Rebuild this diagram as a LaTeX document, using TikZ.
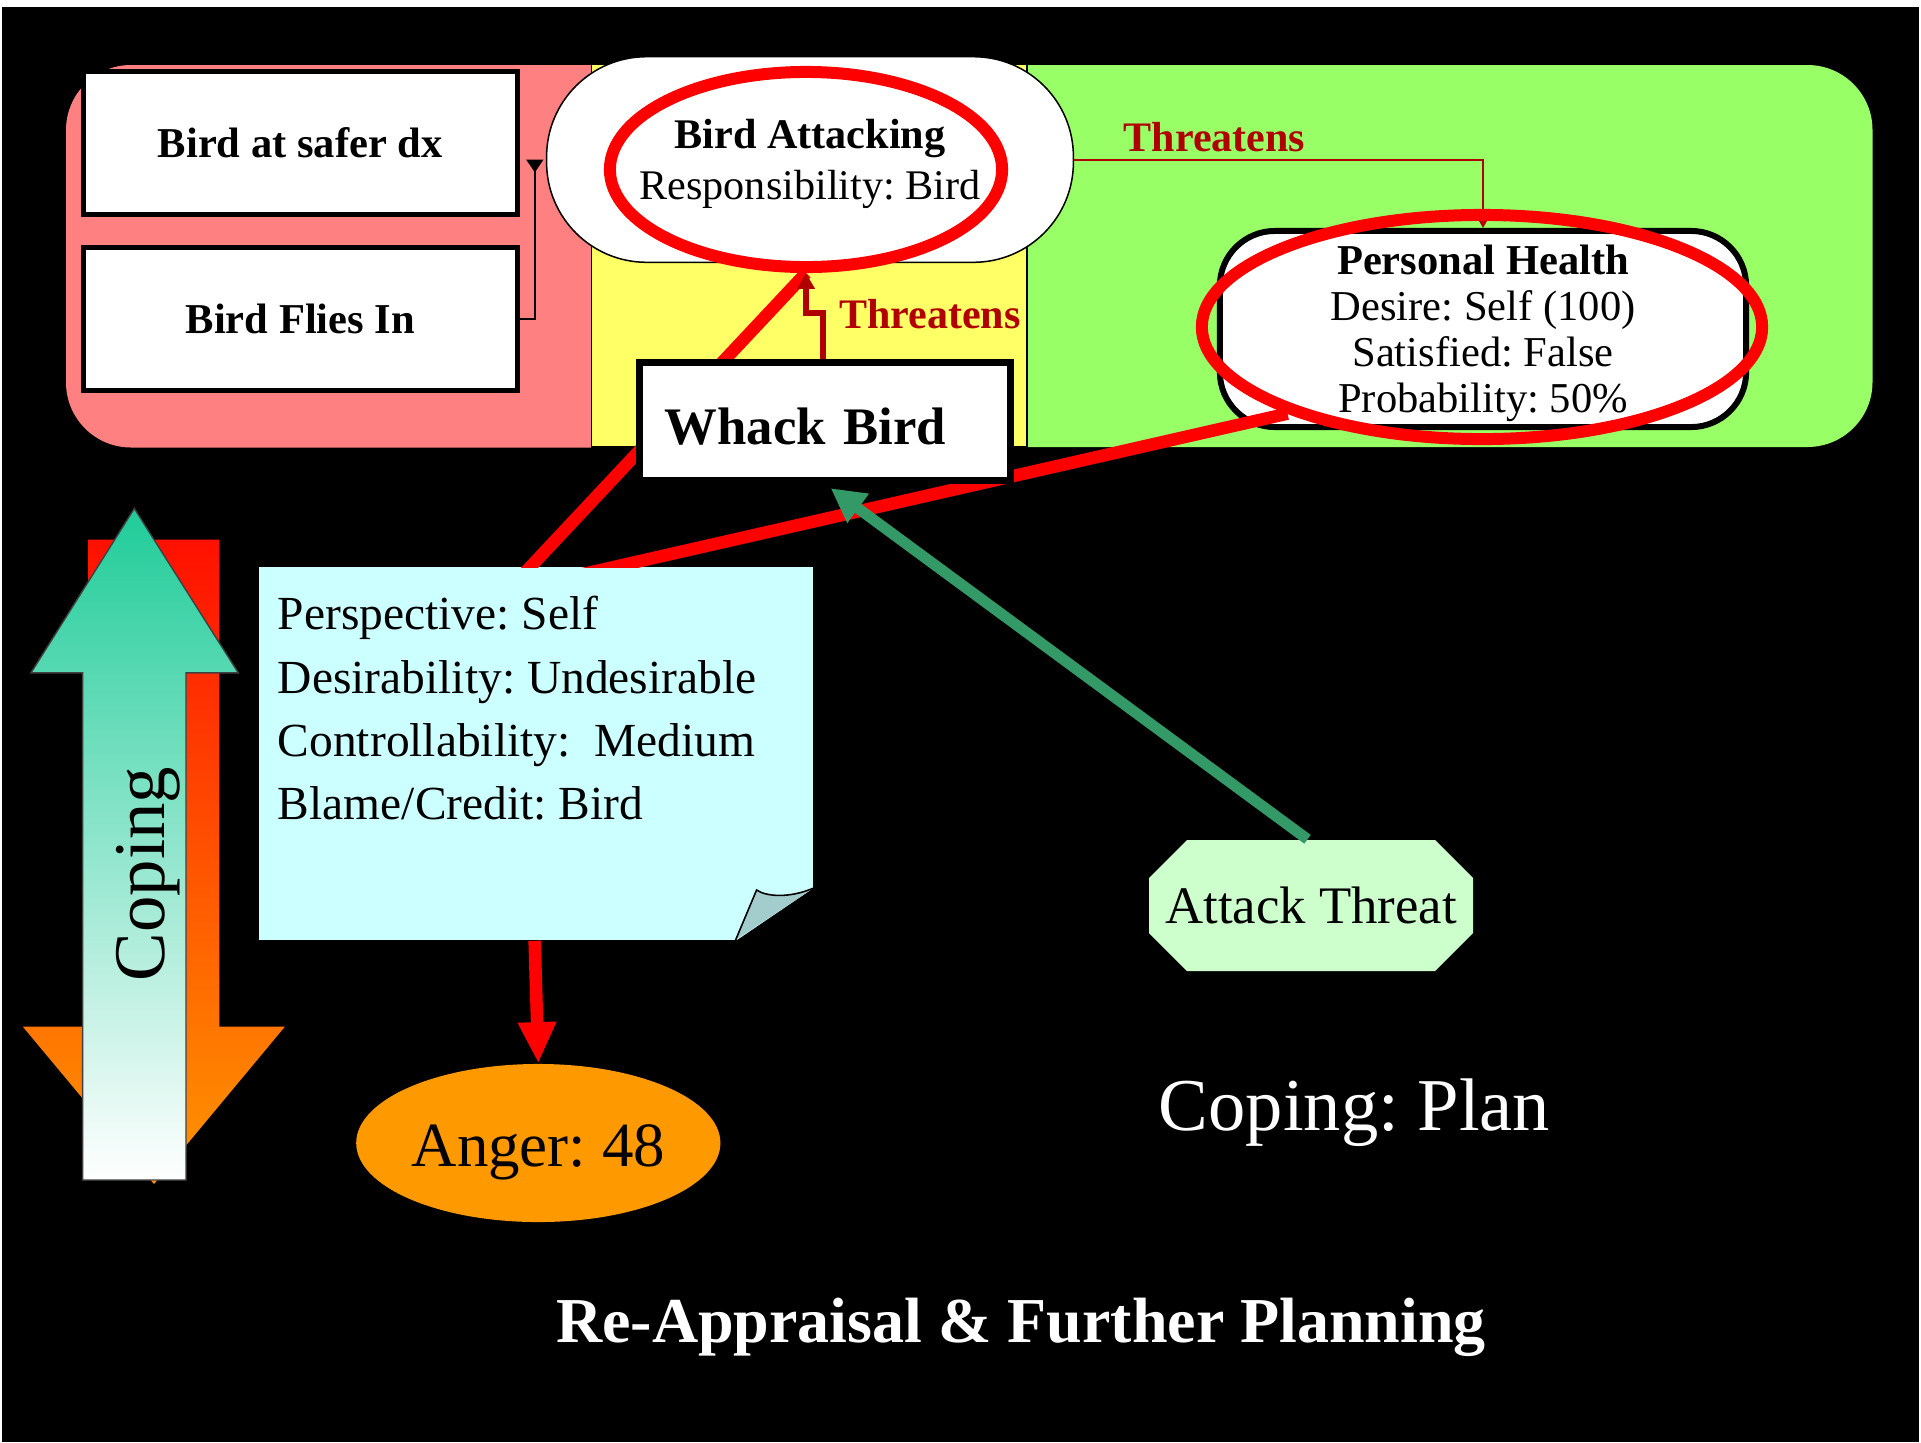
\documentclass[tikz,border=0pt]{standalone}
\usepackage{fontspec}
\setmainfont{Liberation Serif}
\usetikzlibrary{arrows.meta,shapes.geometric,calc}

\definecolor{evpink}{HTML}{FF8080}
\definecolor{evyellow}{HTML}{FFFF66}
\definecolor{evgreen}{HTML}{99FF66}
\definecolor{thred}{HTML}{B00000}
\definecolor{notecyan}{HTML}{CCFFFF}
\definecolor{noteflap}{HTML}{A3CCCC}
\definecolor{atgreen}{HTML}{CCFFCC}
\definecolor{angerorange}{HTML}{FF9900}
\definecolor{planarrow}{HTML}{339966}
\definecolor{copeteal}{RGB}{32,204,153}
\definecolor{copemid}{RGB}{150,225,200}
\definecolor{downred}{RGB}{255,16,0}
\definecolor{downmid}{RGB}{255,140,0}
\definecolor{downorange}{RGB}{255,150,0}

\begin{document}
\frenchspacing
\begin{tikzpicture}[x=0.01cm, y=-0.01cm,
  evbox/.style={draw=black, line width=1.42pt, fill=white, minimum width=4.34cm,
    minimum height=1.43cm, inner sep=0pt, font=\fontsize{12.1pt}{14pt}\selectfont\bfseries},
  statebox/.style={draw=black, line width=0.43pt, fill=white, rounded corners=1cm,
    minimum width=5.265cm, minimum height=2.055cm, align=center, inner sep=0pt,
    font=\fontsize{12pt}{14.5pt}\selectfont},
  goalbox/.style={draw=black, line width=1.7pt, fill=white, rounded corners=0.55cm,
    minimum width=5.26cm, minimum height=1.96cm, align=center, inner sep=0pt,
    font=\fontsize{12.1pt}{13.1pt}\selectfont},
  actbox/.style={draw=black, line width=2.13pt, fill=white, minimum width=3.705cm,
    minimum height=1.175cm, inner sep=0pt, text width=3.2cm, align=left,
    text height=12.8pt, text depth=0pt, font=\fontsize{15pt}{18pt}\selectfont\bfseries},
  ring/.style={ellipse, draw=red, line width=3.41pt, inner sep=0pt},
  hotline/.style={draw=red, line width=3.56pt},
  threatline/.style={draw=thred},
  thlabel/.style={anchor=base, inner sep=0pt, text=thred,
    font=\fontsize{11.95pt}{14pt}\selectfont\bfseries},
  notebox/.style={fill=notecyan, inner xsep=0.19cm, inner ysep=0pt},
  threatbox/.style={minimum width=3.24cm, minimum height=1.31cm, inner sep=0pt,
    font=\fontsize{15pt}{18pt}\selectfont},
  emotion/.style={ellipse, fill=angerorange, minimum width=3.64cm, minimum height=1.58cm,
    inner sep=0pt, text height=17.1pt, text depth=4pt,
    font=\fontsize{17.9pt}{21pt}\selectfont},
  caption/.style={anchor=base, inner sep=0pt, text=white}
]
\useasboundingbox (0,0) rectangle (1921,1442);

% canvas
\fill[black] (0,0) rectangle (1921,1442);
\fill[white] (0,0) rectangle (1921,7);
\fill[white] (0,0) rectangle (1.7,1442);
\fill[white] (1919,0) rectangle (1921,1442);

% past / present / future bands
\fill[evpink, rounded corners=0.65cm] (66,65) rectangle (760,447.5);
\fill[evgreen, rounded corners=0.65cm] (900,65) rectangle (1872.5,447);
\filldraw[fill=evyellow, draw=black, line width=0.43pt] (591.5,64) rectangle (1027,447);

% coping arrows
\path[top color=downred, middle color=downmid, bottom color=downorange]
  (88,539.7) -- (219.3,539.7) -- (219.3,1026.5) -- (285,1026.5) -- (154,1184)
  -- (22.7,1026.5) -- (88,1026.5) -- cycle;
\path[draw=black!75, line width=0.4pt, top color=copeteal, middle color=copemid, bottom color=white]
  (134.3,508.5) -- (238.3,672.8) -- (186,672.8) -- (186,1180) -- (82.7,1180)
  -- (82.7,672.8) -- (31,672.8) -- cycle;
\node[rotate=90, inner sep=0pt, font=\fontsize{20.7pt}{24pt}\selectfont] (cope) at (148,874) {Coping};

% plan steps and states
\node[evbox] (bsafe) at (300.3,143) {Bird at safer dx};
\node[evbox] (bflies) at (300.3,319) {Bird Flies In};
\node[statebox] (battack) at (810,159.5)
  {\rule{0pt}{11pt}{\bfseries Bird Attacking}\\Responsibility: Bird};
\node[goalbox] (health) at (1483,329)
  {\rule{0pt}{10.9pt}{\bfseries Personal Health}\\Desire: Self (100)\\Satisfied: False\\Probability: 50\%};

\draw[line width=0.57pt, -{Triangle[reversed,width=4.8pt,length=3.7pt]}]
  (bflies.east) -| ($(battack.west)+(-11,0)$);
\draw[threatline, line width=0.57pt, -{Triangle[width=4.8pt,length=4.3pt]}]
  (battack.east) -| (health.north);
\node[thlabel] (thtop) at (1214.5,151.7) {Threatens};

% appraisal frame
\node[notebox] (note) at (536,753.75)
  {\parbox[c][3.725cm][t]{5.16cm}{\fontsize{13.5pt}{18pt}\selectfont
   \rule{0pt}{0.625cm}Perspective: Self\\Desirability: Undesirable\\Controllability:\ \ Medium\\Blame/Credit: Bird}};
\fill[black] (735,941.5) -- (814.5,941.5) -- (814.5,887.5) -- cycle;
\fill[noteflap] (735.6,940) -- (756.6,890) .. controls (767,897) and (790,898) .. (813,888.3) -- cycle;
\draw[black, line width=0.45pt] (735.6,940) -- (756.6,890) .. controls (767,897) and (790,898) .. (813,888.3);

% highlighted appraisal targets
\node[ring, minimum width=3.92cm, minimum height=1.95cm] (baring) at (806,169.5) {};
\node[ring, minimum width=5.6cm, minimum height=2.24cm] (phring) at (1482,327) {};

\coordinate (srcA) at ($(note.north west)+(249,25)$);
\coordinate (srcB) at ($(note.north west)+(254,23.5)$);
\begin{scope}
  \clip (0,0) rectangle (1921,567.5);
  \draw[hotline] (srcA) -- (baring.south);
  \draw[hotline] (srcB) -- (phring.204);
\end{scope}

% current action
\node[actbox] (whack) at (825,421.5) {Whack Bird};
\draw[threatline, line width=1.7pt, -{Triangle[width=4.8pt,length=4.5pt]}]
  ([xshift=-0.6pt]whack.north) -- ++(0,-46) -| (baring.south);
\node[thlabel] (thmid) at (930,328) {Threatens};

% threat and coping plan
\fill[atgreen] (1149,878) -- (1187,840) -- (1435,840) -- (1473,878) -- (1473,933)
  -- (1435,971) -- (1187,971) -- (1149,933) -- cycle;
\node[threatbox] (threat) at (1311,905.5) {Attack Threat};
\draw[draw=planarrow, line width=3.1pt, shorten >=2pt, -{Triangle[width=9.7pt,length=9.7pt]}]
  ([xshift=-1pt]threat.north) -- (whack.south);

% emotion
\node[emotion] (anger) at (538.3,1143) {Anger: 48};
\draw[hotline, -{Triangle[width=10.2pt,length=11.7pt]}]
  ($(note.south west)+(276.5,0)$) -- (anger.north);

\node[caption, font=\fontsize{21.2pt}{25pt}\selectfont] (plan) at (1354.5,1130) {Coping: Plan};
\node[caption, font=\fontsize{18.2pt}{22pt}\selectfont\bfseries] (reap) at (1021,1342.7)
  {Re-Appraisal \& Further Planning};
\end{tikzpicture}
\end{document}
